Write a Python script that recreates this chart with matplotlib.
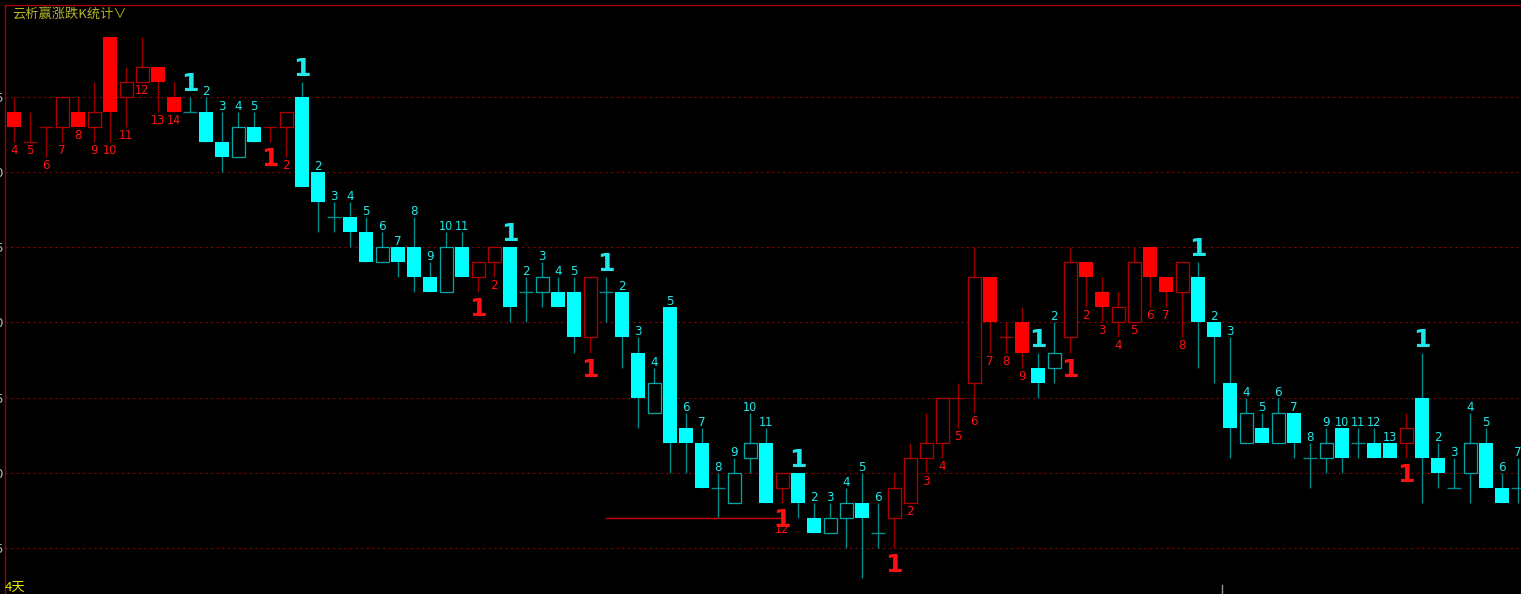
import matplotlib
matplotlib.use("Agg")
import matplotlib.pyplot as plt
from matplotlib.patches import Rectangle
from matplotlib.lines import Line2D
from matplotlib import font_manager

# ---------------- data ----------------
opens = [2.34, 2.32, 2.33, 2.33, 2.34, 2.33, 2.39, 2.35, 2.36, 2.37, 2.35,
         2.34, 2.34, 2.32, 2.31, 2.33, 2.33, 2.33, 2.35, 2.30, 2.27,
         2.27, 2.26, 2.24, 2.25, 2.25, 2.23, 2.22, 2.25, 2.23, 2.24,
         2.25, 2.22, 2.22, 2.22, 2.22, 2.19, 2.22, 2.22, 2.18, 2.14,
         2.21, 2.13, 2.12, 2.09, 2.08, 2.11, 2.12, 2.09, 2.10, 2.07,
         2.06, 2.07, 2.08, 2.06, 2.07, 2.08, 2.11, 2.12, 2.15, 2.16,
         2.23, 2.19, 2.20, 2.17, 2.17, 2.19, 2.24, 2.22, 2.20, 2.20,
         2.25, 2.23, 2.22, 2.23, 2.20, 2.16, 2.12, 2.13, 2.12, 2.14,
         2.11, 2.11, 2.13, 2.12, 2.12, 2.12, 2.12, 2.15, 2.11, 2.09,
         2.10, 2.12, 2.09, 2.09]
highs = [2.35, 2.34, 2.33, 2.35, 2.35, 2.36, 2.39, 2.37, 2.39, 2.37, 2.36,
         2.35, 2.35, 2.34, 2.34, 2.34, 2.33, 2.34, 2.36, 2.30, 2.28,
         2.28, 2.27, 2.26, 2.25, 2.27, 2.24, 2.26, 2.26, 2.24, 2.25,
         2.25, 2.23, 2.24, 2.23, 2.23, 2.23, 2.23, 2.22, 2.19, 2.17,
         2.21, 2.14, 2.13, 2.10, 2.11, 2.14, 2.13, 2.10, 2.10, 2.08,
         2.08, 2.09, 2.10, 2.08, 2.10, 2.12, 2.14, 2.15, 2.16, 2.25,
         2.23, 2.20, 2.21, 2.18, 2.20, 2.25, 2.24, 2.23, 2.22, 2.25,
         2.25, 2.23, 2.24, 2.24, 2.20, 2.19, 2.15, 2.14, 2.15, 2.14,
         2.12, 2.13, 2.13, 2.13, 2.13, 2.12, 2.14, 2.18, 2.12, 2.11,
         2.14, 2.13, 2.10, 2.11]
lows = [2.32, 2.32, 2.31, 2.32, 2.33, 2.32, 2.32, 2.33, 2.36, 2.34, 2.34,
        2.34, 2.32, 2.30, 2.31, 2.32, 2.32, 2.31, 2.29, 2.26, 2.26,
        2.25, 2.24, 2.24, 2.23, 2.22, 2.22, 2.22, 2.23, 2.22, 2.23,
        2.20, 2.20, 2.21, 2.21, 2.18, 2.18, 2.20, 2.17, 2.13, 2.14,
        2.10, 2.10, 2.09, 2.07, 2.08, 2.10, 2.08, 2.08, 2.07, 2.06,
        2.06, 2.05, 2.03, 2.05, 2.05, 2.08, 2.10, 2.11, 2.13, 2.14,
        2.18, 2.18, 2.17, 2.15, 2.16, 2.18, 2.21, 2.20, 2.19, 2.20,
        2.21, 2.21, 2.19, 2.17, 2.16, 2.11, 2.12, 2.12, 2.12, 2.11,
        2.09, 2.10, 2.10, 2.11, 2.11, 2.11, 2.11, 2.08, 2.09, 2.09,
        2.08, 2.09, 2.08, 2.08]
closes = [2.33, 2.32, 2.33, 2.35, 2.33, 2.34, 2.34, 2.36, 2.37, 2.36, 2.34,
          2.34, 2.32, 2.31, 2.33, 2.32, 2.33, 2.34, 2.29, 2.28, 2.27,
          2.26, 2.24, 2.25, 2.24, 2.23, 2.22, 2.25, 2.23, 2.24, 2.25,
          2.21, 2.22, 2.23, 2.21, 2.19, 2.23, 2.22, 2.19, 2.15, 2.16,
          2.12, 2.12, 2.09, 2.09, 2.10, 2.12, 2.08, 2.10, 2.08, 2.06,
          2.07, 2.08, 2.07, 2.06, 2.09, 2.11, 2.12, 2.15, 2.15, 2.23,
          2.20, 2.19, 2.18, 2.16, 2.18, 2.24, 2.23, 2.21, 2.21, 2.24,
          2.23, 2.22, 2.24, 2.20, 2.19, 2.13, 2.14, 2.12, 2.14, 2.12,
          2.11, 2.12, 2.11, 2.12, 2.11, 2.11, 2.13, 2.11, 2.10, 2.09,
          2.12, 2.09, 2.08, 2.09]

# count sequence: 'R' = rising count (red, below), 'C' = falling count (cyan, above)
sides = (['R'] * 11 + ['C'] * 5 + ['R'] * 2 + ['C'] * 11 + ['R'] * 2 +
         ['C'] * 5 + ['R'] + ['C'] * 11 + ['R'] + ['C'] * 6 + ['R'] * 9 +
         ['C'] * 2 + ['R'] * 8 + ['C'] * 13 + ['R'] + ['C'] * 7)
counts = (list(range(4, 15)) + list(range(1, 6)) + [1, 2] + list(range(1, 12)) +
          [1, 2] + list(range(1, 6)) + [1] + list(range(1, 12)) + [1] +
          list(range(1, 7)) + list(range(1, 10)) + [1, 2] + list(range(1, 9)) +
          list(range(1, 14)) + [1] + list(range(1, 8)))
extra_labels = [(48, "12")]
support_line = (37, 48, 2.07)
grid_levels = [2.35, 2.30, 2.25, 2.20, 2.15, 2.10, 2.05]
grid_labels = ["2.35", "2.30", "2.25", "2.20", "2.15", "2.10", "2.05"]
title_text = "云析赢涨跌K统计"
period_text = "4天"

# ---------------- styling ----------------
RED_FILL = '#FF0000'
RED_EDGE = '#B00000'
RED_WICK = '#990000'
CY_FILL = '#00FFFF'
CY_EDGE = '#00A6A6'
CY_WICK = '#008A8A'
RED_TXT = '#FF1010'
CY_TXT = '#20E8E8'

NUM_KW = dict(fontsize=9.5, family=['DejaVu Sans'], fontstretch='condensed')

W, H, DPI = 1521, 594, 100
fig = plt.figure(figsize=(W / DPI, H / DPI), dpi=DPI)
fig.patch.set_facecolor('black')
ax = fig.add_axes([5 / W, 0, (W - 5) / W, (H - 5) / H])
ax.set_facecolor('black')

px_per_unit = 1503.0
ax.set_ylim(2.35 - (594 - 97) / px_per_unit, 2.35 + (97 - 5) / px_per_unit)
ax.set_xlim((5 - 14) / 16.0, (W - 14) / 16.0)

for s in ['right', 'bottom']:
    ax.spines[s].set_visible(False)
for s in ['left', 'top']:
    ax.spines[s].set_color('#A00000')
    ax.spines[s].set_linewidth(1.0)

ax.set_xticks([])
ax.set_yticks(grid_levels)
ax.set_yticklabels(grid_labels, color='#B8B8B8', fontsize=9.5)
ax.tick_params(axis='y', length=0, pad=0.8)

for g in grid_levels:
    ax.axhline(g, color='#8C0000', lw=0.8, ls=(0, (2, 3)), zorder=1)

bw_fill = 14 / 16.0
bw_hollow = 13 / 16.0
lw_px = 0.72

for i, (o, h, l, c, sd) in enumerate(zip(opens, highs, lows, closes, sides)):
    red = sd == 'R'
    wick = RED_WICK if red else CY_WICK
    ax.plot([i, i], [l, h], color=wick, lw=1.0, zorder=2, solid_capstyle='butt')
    if abs(o - c) < 1e-9:
        ax.plot([i - bw_fill / 2, i + bw_fill / 2], [o, o], color=wick, lw=1.0,
                zorder=3, solid_capstyle='butt')
    elif c < o:  # falling -> filled
        ax.add_patch(Rectangle((i - bw_fill / 2, c), bw_fill, o - c,
                               facecolor=RED_FILL if red else CY_FILL,
                               edgecolor='none', lw=0, zorder=3))
    else:  # rising -> hollow
        ax.add_patch(Rectangle((i - bw_hollow / 2, o), bw_hollow, c - o,
                               facecolor='black',
                               edgecolor=RED_EDGE if red else CY_EDGE,
                               lw=lw_px * 1.3, zorder=3))

# count labels
for i, (n, sd) in enumerate(zip(counts, sides)):
    big = n == 1
    if big:
        kw = dict(fontsize=18, fontweight='bold', family=['DejaVu Sans'])
    elif n >= 10:
        kw = dict(NUM_KW, fontsize=9.0)
    else:
        kw = NUM_KW
    if sd == 'R':
        off = -(24 if big else 12)
        ax.annotate(str(n), (i, lows[i]), xytext=(0, off), textcoords='offset pixels',
                    ha='center', va='baseline', color=RED_TXT, zorder=5, **kw)
    else:
        off = 6 if big else 2
        ax.annotate(str(n), (i, highs[i]), xytext=(0, off), textcoords='offset pixels',
                    ha='center', va='baseline', color=CY_TXT, zorder=5, **kw)

for i, t in extra_labels:
    ax.annotate(t, (i, lows[i]), xytext=(0, -30), textcoords='offset pixels',
                ha='center', va='baseline', color=RED_TXT, zorder=4,
                **dict(NUM_KW, fontsize=9.0))

x0, x1, yv = support_line
ax.plot([x0, x1], [yv, yv], color='#D00000', lw=1.0, zorder=2)

# header / footer texts
fig.text(12 / W, 1 - 19 / H, title_text + "∨", color='#B4B42A', fontsize=9.5,
         family=['Noto Sans CJK SC', 'DejaVu Sans'], ha='left', va='baseline')
fig.text(5 / W, 1 - 591 / H, period_text, color='#E8E800', fontsize=9.5,
         family=['Noto Sans CJK SC', 'DejaVu Sans'], ha='left', va='baseline')
fig.add_artist(Line2D([1222 / W, 1222 / W], [0, 9 / H], color='#909090', lw=1.0))

fig.savefig('out.png', dpi=DPI, facecolor='black')
